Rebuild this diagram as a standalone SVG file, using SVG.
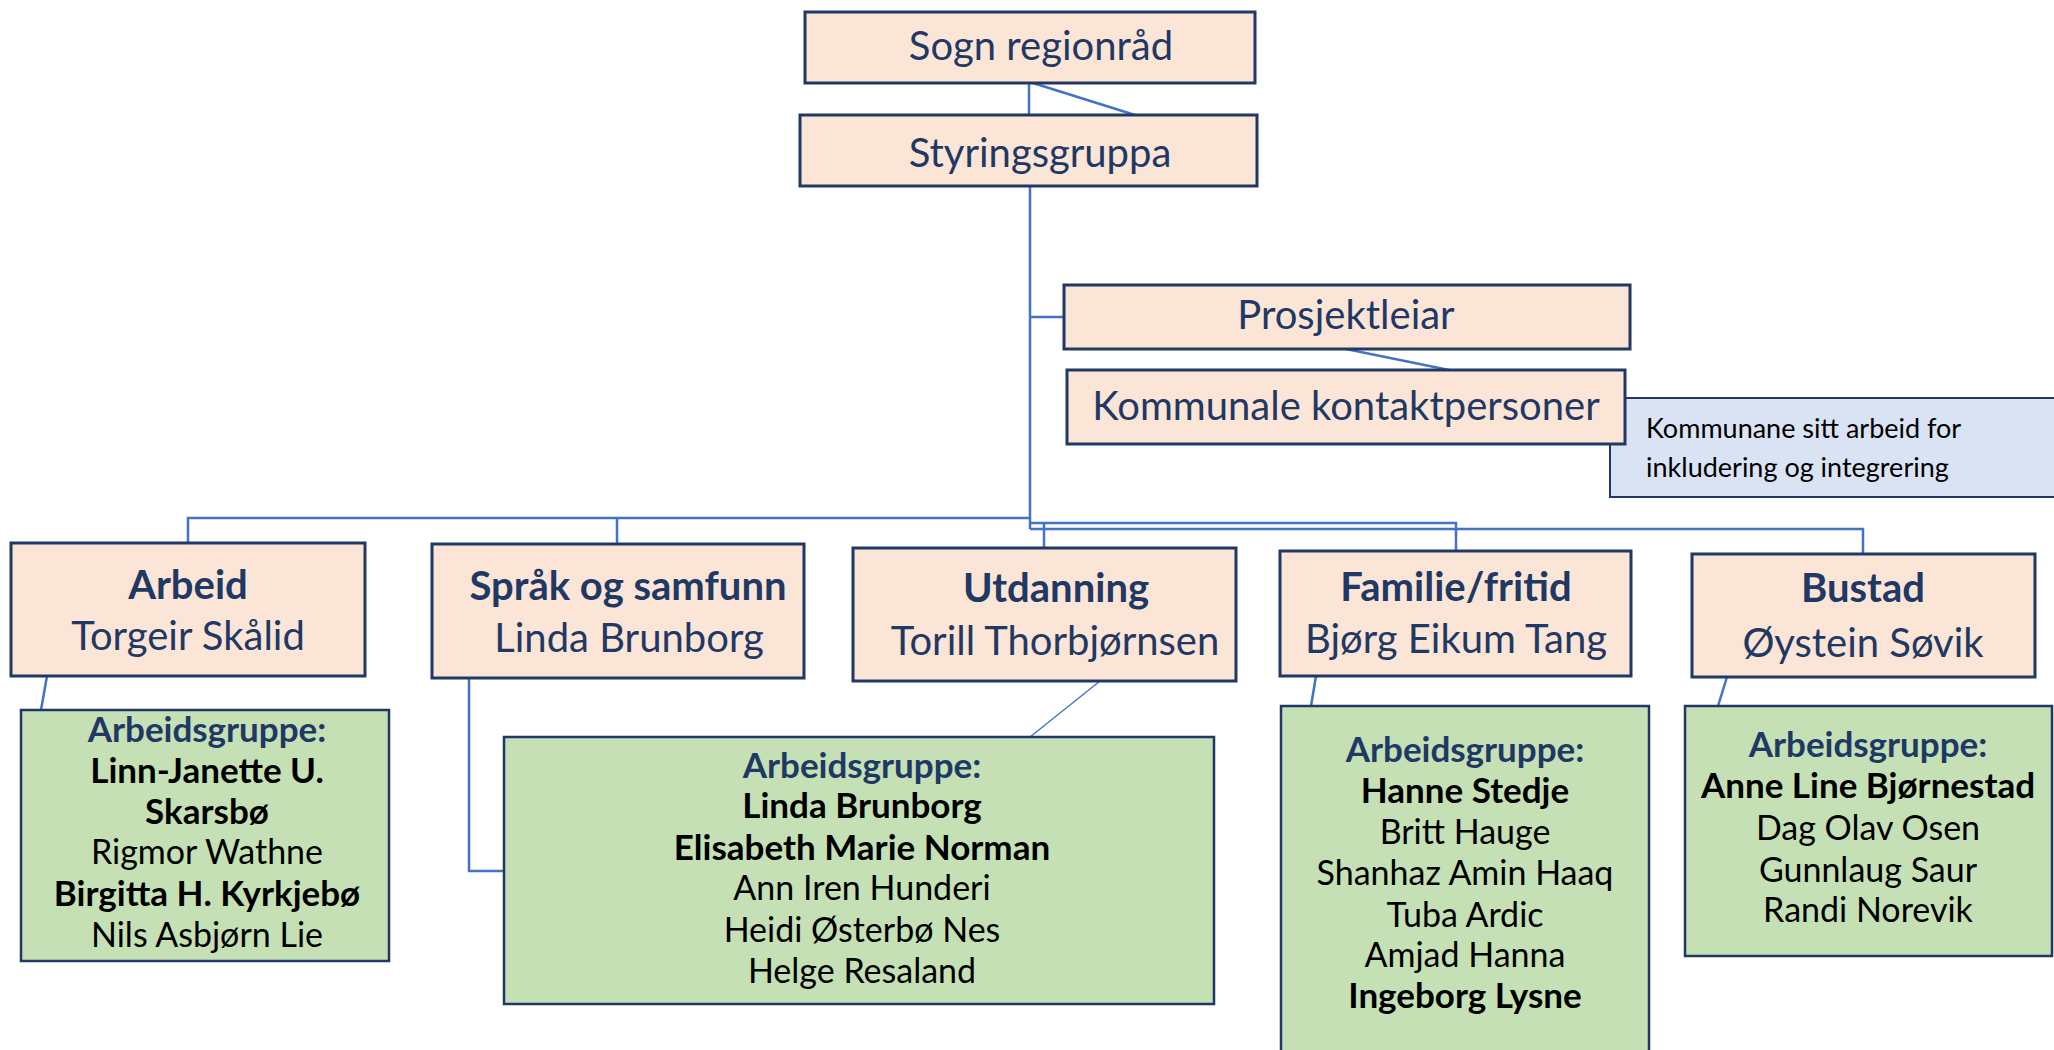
<svg xmlns="http://www.w3.org/2000/svg" width="2054" height="1050" viewBox="0 0 2054 1050">
<style>
.peach{fill:#FBE5D6;stroke:#203864;stroke-width:3}
.green{fill:#C5E0B4;stroke:#203864;stroke-width:2.5}
.blue{fill:#DAE3F3;stroke:#203864;stroke-width:2}
.conn{fill:none;stroke:#4472C4;stroke-width:2.5}
.thin{fill:none;stroke:#4472C4;stroke-width:1.5}
text{font-family:Lato,"Open Sans","Liberation Sans",sans-serif;text-anchor:middle}
.big{font-size:40px;fill:#1F3864}
.bt{font-size:40px;fill:#1F3864;font-weight:bold}
.gh{font-size:35px;fill:#203864;font-weight:bold}
.gn{font-size:34px;fill:#000}
.gb{font-size:35px;fill:#000;font-weight:bold}
.note{font-size:27px;fill:#000;text-anchor:start}
</style>
<rect width="2054" height="1050" fill="#fff"/>
<g id="connectors">
<path class="conn" d="M1029 83V115"/>
<path class="conn" d="M1033 83L1135 115"/>
<path class="conn" d="M1030 186V529"/>
<path class="conn" d="M1030 317H1064"/>
<path class="conn" d="M1346 349L1449 370"/>
<path class="conn" d="M1030 518H188V543"/>
<path class="conn" d="M617 518V544"/>
<path class="conn" d="M1030 523H1456V551"/>
<path class="conn" d="M1044 523V548"/>
<path class="conn" d="M1030 529H1863V554"/>
<path class="conn" d="M47 676L41 710"/>
<path class="conn" d="M469 678V871H504"/>
<path class="thin" d="M1100 681L1030 737"/>
<path class="conn" d="M1316 676L1311 706"/>
<path class="conn" d="M1727 677L1718 706"/>
</g>
<g id="sogn"><rect class="peach" x="805" y="12" width="450" height="71"/><text class="big" x="1041" y="60">Sogn regionråd</text></g>
<g id="styringsgruppa"><rect class="peach" x="800" y="115" width="457" height="71"/><text class="big" x="1040" y="167">Styringsgruppa</text></g>
<g id="prosjektleiar"><rect class="peach" x="1064" y="285" width="566" height="64"/><text class="big" x="1346" y="329">Prosjektleiar</text></g>
<g id="kommunane-note"><rect class="blue" x="1610" y="398" width="460" height="99"/><text class="note" x="1646" y="438">Kommunane sitt arbeid for</text><text class="note" x="1646" y="477">inkludering og integrering</text></g>
<g id="kommunale"><rect class="peach" x="1067" y="370" width="558" height="74"/><text class="big" x="1346" y="420">Kommunale kontaktpersoner</text></g>
<g id="arbeid"><rect class="peach" x="11" y="543" width="354" height="133"/><text class="bt" x="188" y="599">Arbeid</text><text class="big" x="188" y="650">Torgeir Skålid</text></g>
<g id="sprak"><rect class="peach" x="432" y="544" width="372" height="134"/><text class="bt" x="628" y="600">Språk og samfunn</text><text class="big" x="629" y="652">Linda Brunborg</text></g>
<g id="utdanning"><rect class="peach" x="853" y="548" width="383" height="133"/><text class="bt" x="1056" y="602">Utdanning</text><text class="big" x="1055" y="655">Torill Thorbjørnsen</text></g>
<g id="familie"><rect class="peach" x="1280" y="551" width="351" height="125"/><text class="bt" x="1456" y="601">Familie/fritid</text><text class="big" x="1456" y="653">Bjørg Eikum Tang</text></g>
<g id="bustad"><rect class="peach" x="1692" y="554" width="343" height="123"/><text class="bt" x="1863" y="602">Bustad</text><text class="big" x="1863" y="657">Øystein Søvik</text></g>
<g id="gruppe-arbeid"><rect class="green" x="21" y="710" width="368" height="251"/>
<text class="gh" x="207" y="742">Arbeidsgruppe:</text>
<text class="gb" x="207" y="783">Linn-Janette U.</text>
<text class="gb" x="207" y="824">Skarsbø</text>
<text class="gn" x="207" y="864">Rigmor Wathne</text>
<text class="gb" x="207" y="906">Birgitta H. Kyrkjebø</text>
<text class="gn" x="207" y="947">Nils Asbjørn Lie</text></g>
<g id="gruppe-sprak"><rect class="green" x="504" y="737" width="710" height="267"/>
<text class="gh" x="862" y="778">Arbeidsgruppe:</text>
<text class="gb" x="862" y="818">Linda Brunborg</text>
<text class="gb" x="862" y="860">Elisabeth Marie Norman</text>
<text class="gn" x="862" y="900">Ann Iren Hunderi</text>
<text class="gn" x="862" y="942">Heidi Østerbø Nes</text>
<text class="gn" x="862" y="983">Helge Resaland</text></g>
<g id="gruppe-familie"><rect class="green" x="1281" y="706" width="368" height="360"/>
<text class="gh" x="1465" y="762">Arbeidsgruppe:</text>
<text class="gb" x="1465" y="803">Hanne Stedje</text>
<text class="gn" x="1465" y="844">Britt Hauge</text>
<text class="gn" x="1465" y="885">Shanhaz Amin Haaq</text>
<text class="gn" x="1465" y="927">Tuba Ardic</text>
<text class="gn" x="1465" y="967">Amjad Hanna</text>
<text class="gb" x="1465" y="1008">Ingeborg Lysne</text></g>
<g id="gruppe-bustad"><rect class="green" x="1685" y="706" width="367" height="250"/>
<text class="gh" x="1868" y="757">Arbeidsgruppe:</text>
<text class="gb" x="1868" y="798">Anne Line Bjørnestad</text>
<text class="gn" x="1868" y="840">Dag Olav Osen</text>
<text class="gn" x="1868" y="882">Gunnlaug Saur</text>
<text class="gn" x="1868" y="922">Randi Norevik</text></g>
</svg>
